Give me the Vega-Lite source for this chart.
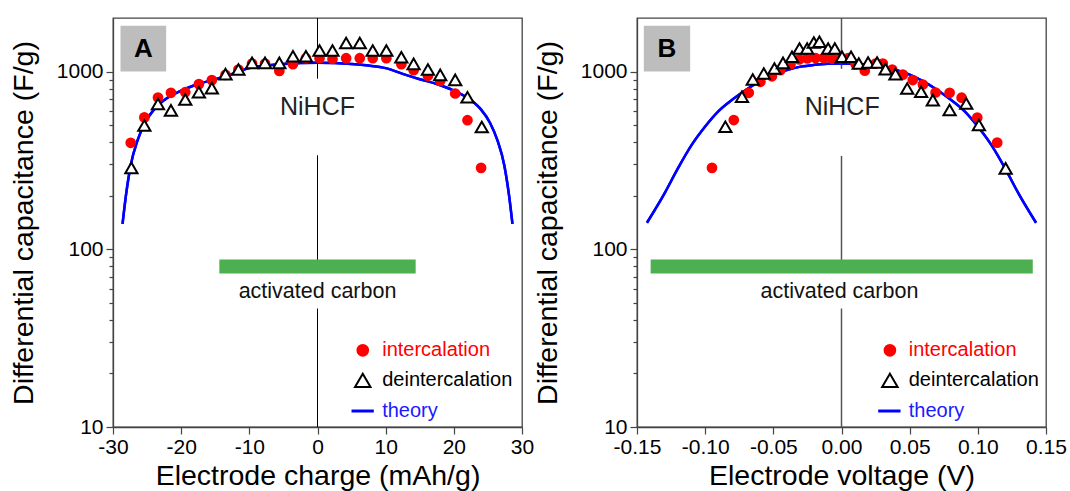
{
  "$schema": "https://vega.github.io/schema/vega-lite/v6.json",
  "padding": {"left": 8, "top": 16, "right": 3, "bottom": 0},
  "bounds": "flush",
  "spacing": 115,
  "background": "white",
  "datasets": {
    "one": [{}],
    "chargeData": [
      {"q": -27.4, "C": 397, "series": "intercalation"},
      {"q": -25.4, "C": 552, "series": "intercalation"},
      {"q": -23.4, "C": 714, "series": "intercalation"},
      {"q": -21.5, "C": 759, "series": "intercalation"},
      {"q": -19.4, "C": 765, "series": "intercalation"},
      {"q": -17.4, "C": 849, "series": "intercalation"},
      {"q": -15.5, "C": 894, "series": "intercalation"},
      {"q": -13.5, "C": 957, "series": "intercalation"},
      {"q": -11.6, "C": 1026, "series": "intercalation"},
      {"q": -9.6, "C": 1108, "series": "intercalation"},
      {"q": -7.7, "C": 1108, "series": "intercalation"},
      {"q": -5.6, "C": 1008, "series": "intercalation"},
      {"q": -3.6, "C": 1099, "series": "intercalation"},
      {"q": -1.7, "C": 1188, "series": "intercalation"},
      {"q": 0.3, "C": 1188, "series": "intercalation"},
      {"q": 2.2, "C": 1177, "series": "intercalation"},
      {"q": 4.2, "C": 1188, "series": "intercalation"},
      {"q": 6.2, "C": 1188, "series": "intercalation"},
      {"q": 8.1, "C": 1188, "series": "intercalation"},
      {"q": 10.1, "C": 1188, "series": "intercalation"},
      {"q": 12.3, "C": 1099, "series": "intercalation"},
      {"q": 14.1, "C": 1017, "series": "intercalation"},
      {"q": 16.2, "C": 948, "series": "intercalation"},
      {"q": 18.0, "C": 885, "series": "intercalation"},
      {"q": 20.2, "C": 752, "series": "intercalation"},
      {"q": 22.0, "C": 532, "series": "intercalation"},
      {"q": 24.0, "C": 287, "series": "intercalation"},
      {"q": -27.3, "C": 287, "series": "deintercalation"},
      {"q": -25.4, "C": 497, "series": "deintercalation"},
      {"q": -23.4, "C": 657, "series": "deintercalation"},
      {"q": -21.5, "C": 604, "series": "deintercalation"},
      {"q": -19.4, "C": 696, "series": "deintercalation"},
      {"q": -17.4, "C": 765, "series": "deintercalation"},
      {"q": -15.5, "C": 806, "series": "deintercalation"},
      {"q": -13.5, "C": 966, "series": "deintercalation"},
      {"q": -11.6, "C": 1026, "series": "deintercalation"},
      {"q": -9.6, "C": 1118, "series": "deintercalation"},
      {"q": -7.7, "C": 1118, "series": "deintercalation"},
      {"q": -5.6, "C": 1118, "series": "deintercalation"},
      {"q": -3.6, "C": 1219, "series": "deintercalation"},
      {"q": -1.7, "C": 1219, "series": "deintercalation"},
      {"q": 0.3, "C": 1313, "series": "deintercalation"},
      {"q": 2.2, "C": 1313, "series": "deintercalation"},
      {"q": 4.2, "C": 1448, "series": "deintercalation"},
      {"q": 6.2, "C": 1448, "series": "deintercalation"},
      {"q": 8.1, "C": 1313, "series": "deintercalation"},
      {"q": 10.1, "C": 1313, "series": "deintercalation"},
      {"q": 12.3, "C": 1203, "series": "deintercalation"},
      {"q": 14.1, "C": 1104, "series": "deintercalation"},
      {"q": 16.2, "C": 1026, "series": "deintercalation"},
      {"q": 18.0, "C": 957, "series": "deintercalation"},
      {"q": 20.2, "C": 897, "series": "deintercalation"},
      {"q": 22.0, "C": 717, "series": "deintercalation"},
      {"q": 24.1, "C": 487, "series": "deintercalation"}
    ],
    "voltageData": [
      {"V": -0.095, "C": 287, "series": "intercalation"},
      {"V": -0.079, "C": 533, "series": "intercalation"},
      {"V": -0.068, "C": 759, "series": "intercalation"},
      {"V": -0.0595, "C": 875, "series": "intercalation"},
      {"V": -0.051, "C": 940, "series": "intercalation"},
      {"V": -0.0448, "C": 1018, "series": "intercalation"},
      {"V": -0.0374, "C": 1100, "series": "intercalation"},
      {"V": -0.031, "C": 1170, "series": "intercalation"},
      {"V": -0.025, "C": 1185, "series": "intercalation"},
      {"V": -0.019, "C": 1190, "series": "intercalation"},
      {"V": -0.013, "C": 1190, "series": "intercalation"},
      {"V": -0.007, "C": 1180, "series": "intercalation"},
      {"V": -0.001, "C": 1190, "series": "intercalation"},
      {"V": 0.005, "C": 1190, "series": "intercalation"},
      {"V": 0.0103, "C": 1100, "series": "intercalation"},
      {"V": 0.0171, "C": 1010, "series": "intercalation"},
      {"V": 0.025, "C": 1108, "series": "intercalation"},
      {"V": 0.0303, "C": 1108, "series": "intercalation"},
      {"V": 0.0372, "C": 1026, "series": "intercalation"},
      {"V": 0.045, "C": 960, "series": "intercalation"},
      {"V": 0.0523, "C": 895, "series": "intercalation"},
      {"V": 0.0597, "C": 845, "series": "intercalation"},
      {"V": 0.069, "C": 762, "series": "intercalation"},
      {"V": 0.0793, "C": 759, "series": "intercalation"},
      {"V": 0.0881, "C": 712, "series": "intercalation"},
      {"V": 0.0996, "C": 551, "series": "intercalation"},
      {"V": 0.1142, "C": 398, "series": "intercalation"},
      {"V": -0.0852, "C": 489, "series": "deintercalation"},
      {"V": -0.073, "C": 721, "series": "deintercalation"},
      {"V": -0.0651, "C": 902, "series": "deintercalation"},
      {"V": -0.057, "C": 975, "series": "deintercalation"},
      {"V": -0.0492, "C": 1040, "series": "deintercalation"},
      {"V": -0.0429, "C": 1119, "series": "deintercalation"},
      {"V": -0.0363, "C": 1210, "series": "deintercalation"},
      {"V": -0.0308, "C": 1347, "series": "deintercalation"},
      {"V": -0.0252, "C": 1347, "series": "deintercalation"},
      {"V": -0.0203, "C": 1456, "series": "deintercalation"},
      {"V": -0.0162, "C": 1469, "series": "deintercalation"},
      {"V": -0.0098, "C": 1347, "series": "deintercalation"},
      {"V": -0.0049, "C": 1347, "series": "deintercalation"},
      {"V": 0.0004, "C": 1210, "series": "deintercalation"},
      {"V": 0.007, "C": 1210, "series": "deintercalation"},
      {"V": 0.0127, "C": 1109, "series": "deintercalation"},
      {"V": 0.0195, "C": 1124, "series": "deintercalation"},
      {"V": 0.0261, "C": 1124, "series": "deintercalation"},
      {"V": 0.0323, "C": 1031, "series": "deintercalation"},
      {"V": 0.0396, "C": 967, "series": "deintercalation"},
      {"V": 0.0482, "C": 802, "series": "deintercalation"},
      {"V": 0.0584, "C": 769, "series": "deintercalation"},
      {"V": 0.067, "C": 690, "series": "deintercalation"},
      {"V": 0.0793, "C": 607, "series": "deintercalation"},
      {"V": 0.0915, "C": 661, "series": "deintercalation"},
      {"V": 0.1008, "C": 500, "series": "deintercalation"},
      {"V": 0.1204, "C": 285, "series": "deintercalation"}
    ],
    "theoryQ": [
      {"q": -28.6, "C": 139}, {"q": -28.1, "C": 201}, {"q": -27.4, "C": 297},
      {"q": -26.4, "C": 410}, {"q": -25.3, "C": 515}, {"q": -24.0, "C": 610},
      {"q": -22.5, "C": 690}, {"q": -20.0, "C": 780}, {"q": -17.5, "C": 850},
      {"q": -15.0, "C": 905}, {"q": -12.5, "C": 970}, {"q": -10.0, "C": 1045},
      {"q": -7.5, "C": 1080}, {"q": -5.0, "C": 1102}, {"q": -2.5, "C": 1115},
      {"q": 0, "C": 1120},
      {"q": 2.5, "C": 1115}, {"q": 5.0, "C": 1102}, {"q": 7.5, "C": 1080},
      {"q": 10.0, "C": 1045}, {"q": 12.5, "C": 970}, {"q": 15.0, "C": 905},
      {"q": 17.5, "C": 850}, {"q": 20.0, "C": 780}, {"q": 22.5, "C": 690},
      {"q": 24.0, "C": 610}, {"q": 25.3, "C": 515}, {"q": 26.4, "C": 410},
      {"q": 27.4, "C": 297}, {"q": 28.1, "C": 201}, {"q": 28.6, "C": 139}
    ],
    "theoryV": [
      {"V": -0.1427, "C": 141}, {"V": -0.13, "C": 205}, {"V": -0.12, "C": 285},
      {"V": -0.11, "C": 385}, {"V": -0.1, "C": 490}, {"V": -0.09, "C": 600},
      {"V": -0.08, "C": 695}, {"V": -0.07, "C": 790}, {"V": -0.06, "C": 880},
      {"V": -0.05, "C": 960}, {"V": -0.04, "C": 1020}, {"V": -0.03, "C": 1065},
      {"V": -0.02, "C": 1090}, {"V": -0.01, "C": 1105}, {"V": 0, "C": 1110},
      {"V": 0.01, "C": 1105}, {"V": 0.02, "C": 1090}, {"V": 0.03, "C": 1065},
      {"V": 0.04, "C": 1020}, {"V": 0.05, "C": 960}, {"V": 0.06, "C": 880},
      {"V": 0.07, "C": 790}, {"V": 0.08, "C": 695}, {"V": 0.09, "C": 600},
      {"V": 0.1, "C": 490}, {"V": 0.11, "C": 385}, {"V": 0.12, "C": 285},
      {"V": 0.13, "C": 205}, {"V": 0.1427, "C": 141}
    ]
  },
  "hconcat": [
    {
      "width": 409,
      "height": 409,
      "layer": [
        {
          "data": {"name": "theoryQ"},
          "mark": {"type": "line", "color": "#0000ff", "strokeWidth": 2.5, "interpolate": "monotone"},
          "encoding": {
            "x": {
              "field": "q", "type": "quantitative",
              "scale": {"domain": [-30, 30], "nice": false, "zero": false},
              "axis": {
                "title": "Electrode charge (mAh/g)",
                "values": [-30, -25, -20, -15, -10, -5, 0, 5, 10, 15, 20, 25, 30],
                "labelExpr": "datum.value % 10 === 0 ? (datum.value < 0 ? '-' + (-datum.value) : '' + datum.value) : ''",
                "tickSize": {"condition": {"test": "datum.value % 10 === 0", "value": 7}, "value": 4},
                "labelFlush": false, "labelOverlap": false,
                "labelPadding": 2, "titlePadding": 4
              }
            },
            "y": {
              "field": "C", "type": "quantitative",
              "scale": {"type": "log", "domain": [10, 2000], "nice": false},
              "axis": {
                "title": "Differential capacitance (F/g)",
                "values": [10, 20, 30, 40, 50, 60, 70, 80, 90, 100, 200, 300, 400, 500, 600, 700, 800, 900, 1000],
                "labelExpr": "indexof([10, 100, 1000], datum.value) >= 0 ? '' + datum.value : ''",
                "tickSize": {"condition": {"test": "indexof([10, 100, 1000], datum.value) >= 0", "value": 7}, "value": 4},
                "labelOverlap": false, "labelFlush": false,
                "labelPadding": 3, "titlePadding": 18
              }
            }
          }
        },
        {
          "data": {"name": "one"},
          "mark": {"type": "rect", "color": "#bdbdbd"},
          "encoding": {"x": {"datum": -28.9}, "x2": {"datum": -22.2}, "y": {"datum": 1810}, "y2": {"datum": 1000}}
        },
        {
          "data": {"name": "one"},
          "mark": {"type": "text", "text": "A", "fontSize": 26, "fontWeight": "bold", "color": "#000", "align": "center", "baseline": "middle"},
          "encoding": {"x": {"datum": -25.55}, "y": {"datum": 1345}}
        },
        {
          "data": {"name": "one"},
          "mark": {"type": "rule", "color": "#000", "strokeWidth": 1},
          "encoding": {"x": {"datum": 0}, "y": {"datum": 2000}, "y2": {"datum": 911}}
        },
        {
          "data": {"name": "one"},
          "mark": {"type": "rule", "color": "#000", "strokeWidth": 1},
          "encoding": {"x": {"datum": 0}, "y": {"datum": 338}, "y2": {"datum": 75}}
        },
        {
          "data": {"name": "one"},
          "mark": {"type": "rule", "color": "#000", "strokeWidth": 1},
          "encoding": {"x": {"datum": 0}, "y": {"datum": 46.4}, "y2": {"datum": 10}}
        },
        {
          "data": {"name": "one"},
          "mark": {"type": "rule", "color": "#4caf50", "strokeWidth": 14},
          "encoding": {"x": {"datum": -14.4}, "x2": {"datum": 14.4}, "y": {"datum": 80}}
        },
        {
          "data": {"name": "one"},
          "mark": {"type": "text", "text": "activated carbon", "fontSize": 21.5, "color": "#111", "align": "center", "baseline": "middle"},
          "encoding": {"x": {"datum": 0}, "y": {"datum": 57.5}}
        },
        {
          "data": {"name": "one"},
          "mark": {"type": "text", "text": "NiHCF", "fontSize": 25, "color": "#222", "align": "center", "baseline": "middle"},
          "encoding": {"x": {"datum": 0}, "y": {"datum": 631}}
        },
        {
          "data": {"name": "theoryQ"},
          "mark": {"type": "line", "color": "#0000ff", "strokeWidth": 2.5, "interpolate": "monotone"},
          "encoding": {"x": {"field": "q", "type": "quantitative"}, "y": {"field": "C", "type": "quantitative"}}
        },
        {
          "data": {"name": "chargeData"},
          "transform": [{"filter": "datum.series === 'intercalation'"}],
          "mark": {"type": "point", "shape": "circle", "filled": true, "color": "#ff0000", "size": 115, "opacity": 1},
          "encoding": {"x": {"field": "q", "type": "quantitative"}, "y": {"field": "C", "type": "quantitative"}}
        },
        {
          "data": {"name": "chargeData"},
          "transform": [{"filter": "datum.series === 'deintercalation'"}],
          "mark": {"type": "point", "shape": "triangle-up", "filled": false, "fill": "#ffffff", "fillOpacity": 1, "stroke": "#000", "strokeWidth": 2, "size": 150, "opacity": 1},
          "encoding": {"x": {"field": "q", "type": "quantitative"}, "y": {"field": "C", "type": "quantitative"}}
        },
        {
          "data": {"name": "one"},
          "mark": {"type": "point", "shape": "circle", "filled": true, "color": "#ff0000", "size": 160, "opacity": 1},
          "encoding": {"x": {"datum": 6.64}, "y": {"datum": 27.0}}
        },
        {
          "data": {"name": "one"},
          "mark": {"type": "point", "shape": "triangle-up", "filled": false, "stroke": "#000", "strokeWidth": 2, "size": 240, "opacity": 1},
          "encoding": {"x": {"datum": 6.64}, "y": {"datum": 18.3}}
        },
        {
          "data": {"name": "one"},
          "mark": {"type": "rule", "color": "#0000ff", "strokeWidth": 3},
          "encoding": {"x": {"datum": 4.99}, "x2": {"datum": 8.26}, "y": {"datum": 12.3}}
        },
        {
          "data": {"name": "one"},
          "mark": {"type": "text", "text": "intercalation", "fontSize": 20, "color": "#ff0000", "align": "left", "baseline": "middle"},
          "encoding": {"x": {"datum": 9.49}, "y": {"datum": 27.0}}
        },
        {
          "data": {"name": "one"},
          "mark": {"type": "text", "text": "deintercalation", "fontSize": 20, "color": "#000", "align": "left", "baseline": "middle"},
          "encoding": {"x": {"datum": 9.49}, "y": {"datum": 18.3}}
        },
        {
          "data": {"name": "one"},
          "mark": {"type": "text", "text": "theory", "fontSize": 20, "color": "#1a1aff", "align": "left", "baseline": "middle"},
          "encoding": {"x": {"datum": 9.49}, "y": {"datum": 12.3}}
        }
      ]
    },
    {
      "width": 409,
      "height": 409,
      "layer": [
        {
          "data": {"name": "theoryV"},
          "mark": {"type": "line", "color": "#0000ff", "strokeWidth": 2.5, "interpolate": "monotone"},
          "encoding": {
            "x": {
              "field": "V", "type": "quantitative",
              "scale": {"domain": [-0.15, 0.15], "nice": false, "zero": false},
              "axis": {
                "title": "Electrode voltage (V)",
                "values": [-0.15, -0.125, -0.1, -0.075, -0.05, -0.025, 0, 0.025, 0.05, 0.075, 0.1, 0.125, 0.15],
                "labelExpr": "abs(round(datum.value * 1000)) % 50 === 0 ? (datum.value < 0 ? '-' + format(-datum.value, '.2f') : format(datum.value, '.2f')) : ''",
                "tickSize": {"condition": {"test": "abs(round(datum.value * 1000)) % 50 === 0", "value": 7}, "value": 4},
                "labelFlush": false, "labelOverlap": false,
                "labelPadding": 2, "titlePadding": 4
              }
            },
            "y": {
              "field": "C", "type": "quantitative",
              "scale": {"type": "log", "domain": [10, 2000], "nice": false},
              "axis": {
                "title": "Differential capacitance (F/g)",
                "values": [10, 20, 30, 40, 50, 60, 70, 80, 90, 100, 200, 300, 400, 500, 600, 700, 800, 900, 1000],
                "labelExpr": "indexof([10, 100, 1000], datum.value) >= 0 ? '' + datum.value : ''",
                "tickSize": {"condition": {"test": "indexof([10, 100, 1000], datum.value) >= 0", "value": 7}, "value": 4},
                "labelOverlap": false, "labelFlush": false,
                "labelPadding": 3, "titlePadding": 18
              }
            }
          }
        },
        {
          "data": {"name": "one"},
          "mark": {"type": "rect", "color": "#bdbdbd"},
          "encoding": {"x": {"datum": -0.145}, "x2": {"datum": -0.111}, "y": {"datum": 1810}, "y2": {"datum": 1000}}
        },
        {
          "data": {"name": "one"},
          "mark": {"type": "text", "text": "B", "fontSize": 26, "fontWeight": "bold", "color": "#000", "align": "center", "baseline": "middle"},
          "encoding": {"x": {"datum": -0.128}, "y": {"datum": 1345}}
        },
        {
          "data": {"name": "one"},
          "mark": {"type": "rule", "color": "#555", "strokeWidth": 1.5},
          "encoding": {"x": {"datum": 0}, "y": {"datum": 2000}, "y2": {"datum": 1036}}
        },
        {
          "data": {"name": "one"},
          "mark": {"type": "rule", "color": "#555", "strokeWidth": 1.5},
          "encoding": {"x": {"datum": 0}, "y": {"datum": 335}, "y2": {"datum": 75}}
        },
        {
          "data": {"name": "one"},
          "mark": {"type": "rule", "color": "#555", "strokeWidth": 1.5},
          "encoding": {"x": {"datum": 0}, "y": {"datum": 46.4}, "y2": {"datum": 10}}
        },
        {
          "data": {"name": "one"},
          "mark": {"type": "rule", "color": "#4caf50", "strokeWidth": 14},
          "encoding": {"x": {"datum": -0.14}, "x2": {"datum": 0.1403}, "y": {"datum": 80}}
        },
        {
          "data": {"name": "one"},
          "mark": {"type": "text", "text": "activated carbon", "fontSize": 21.5, "color": "#111", "align": "center", "baseline": "middle"},
          "encoding": {"x": {"datum": -0.0015}, "y": {"datum": 57.5}}
        },
        {
          "data": {"name": "one"},
          "mark": {"type": "text", "text": "NiHCF", "fontSize": 25, "color": "#222", "align": "center", "baseline": "middle"},
          "encoding": {"x": {"datum": 0.0005}, "y": {"datum": 631}}
        },
        {
          "data": {"name": "theoryV"},
          "mark": {"type": "line", "color": "#0000ff", "strokeWidth": 2.5, "interpolate": "monotone"},
          "encoding": {"x": {"field": "V", "type": "quantitative"}, "y": {"field": "C", "type": "quantitative"}}
        },
        {
          "data": {"name": "voltageData"},
          "transform": [{"filter": "datum.series === 'intercalation'"}],
          "mark": {"type": "point", "shape": "circle", "filled": true, "color": "#ff0000", "size": 115, "opacity": 1},
          "encoding": {"x": {"field": "V", "type": "quantitative"}, "y": {"field": "C", "type": "quantitative"}}
        },
        {
          "data": {"name": "voltageData"},
          "transform": [{"filter": "datum.series === 'deintercalation'"}],
          "mark": {"type": "point", "shape": "triangle-up", "filled": false, "fill": "#ffffff", "fillOpacity": 1, "stroke": "#000", "strokeWidth": 2, "size": 150, "opacity": 1},
          "encoding": {"x": {"field": "V", "type": "quantitative"}, "y": {"field": "C", "type": "quantitative"}}
        },
        {
          "data": {"name": "one"},
          "mark": {"type": "point", "shape": "circle", "filled": true, "color": "#ff0000", "size": 160, "opacity": 1},
          "encoding": {"x": {"datum": 0.0355}, "y": {"datum": 27.0}}
        },
        {
          "data": {"name": "one"},
          "mark": {"type": "point", "shape": "triangle-up", "filled": false, "stroke": "#000", "strokeWidth": 2, "size": 240, "opacity": 1},
          "encoding": {"x": {"datum": 0.0355}, "y": {"datum": 18.3}}
        },
        {
          "data": {"name": "one"},
          "mark": {"type": "rule", "color": "#0000ff", "strokeWidth": 3},
          "encoding": {"x": {"datum": 0.0269}, "x2": {"datum": 0.0433}, "y": {"datum": 12.3}}
        },
        {
          "data": {"name": "one"},
          "mark": {"type": "text", "text": "intercalation", "fontSize": 20, "color": "#ff0000", "align": "left", "baseline": "middle"},
          "encoding": {"x": {"datum": 0.0493}, "y": {"datum": 27.0}}
        },
        {
          "data": {"name": "one"},
          "mark": {"type": "text", "text": "deintercalation", "fontSize": 20, "color": "#000", "align": "left", "baseline": "middle"},
          "encoding": {"x": {"datum": 0.0493}, "y": {"datum": 18.3}}
        },
        {
          "data": {"name": "one"},
          "mark": {"type": "text", "text": "theory", "fontSize": 20, "color": "#1a1aff", "align": "left", "baseline": "middle"},
          "encoding": {"x": {"datum": 0.0493}, "y": {"datum": 12.3}}
        }
      ]
    }
  ],
  "config": {
    "font": "Liberation Sans",
    "view": {"stroke": "#444", "strokeWidth": 1.3},
    "axis": {
      "grid": false,
      "labelFont": "Liberation Sans",
      "titleFont": "Liberation Sans",
      "labelFontSize": 21,
      "titleFontSize": 28.5,
      "titleFontWeight": "normal",
      "labelColor": "#000",
      "titleColor": "#000",
      "domainColor": "#444",
      "domainWidth": 1.3,
      "tickColor": "#444",
      "tickWidth": 1.2
    }
  }
}
